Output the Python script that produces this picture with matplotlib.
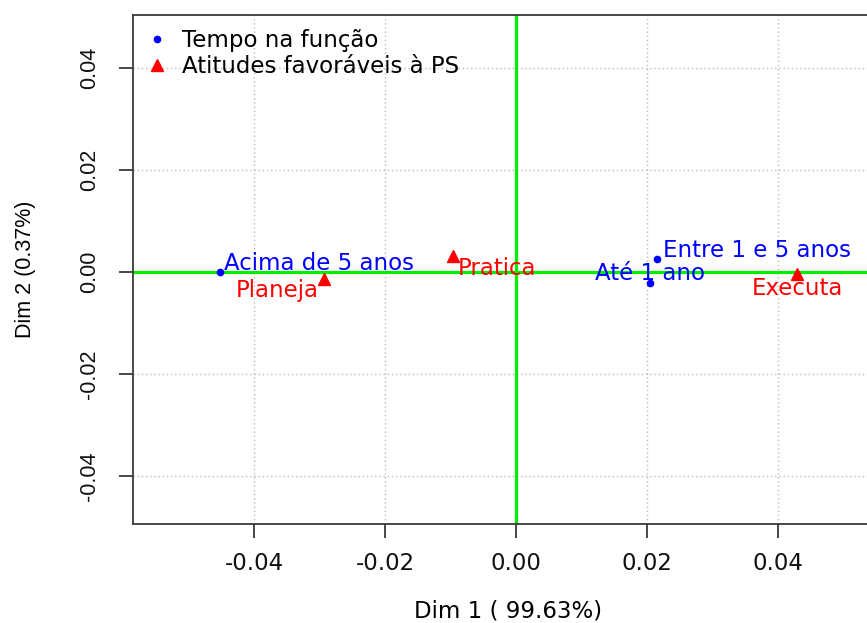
import matplotlib
matplotlib.use("Agg")
import matplotlib.pyplot as plt

# ============================================================================
# DATA
# ============================================================================

row_names = ["Acima de 5 anos", "Entre 1 e 5 anos", "Até 1 ano"]
row_x = [-0.0452, 0.0216, 0.0204]
row_y = [0.0000, 0.0025, -0.0022]

col_names = ["Planeja", "Pratica", "Executa"]
col_x = [-0.0293, -0.0096, 0.0429]
col_y = [-0.0014, 0.0031, -0.0003]

tick_values = [-0.04, -0.02, 0.00, 0.02, 0.04]
tick_labels = ["-0.04", "-0.02", "0.00", "0.02", "0.04"]

legend_labels = ["Tempo na função", "Atitudes favoráveis à PS"]
xlabel = "Dim 1 ( 99.63%)"
ylabel = "Dim 2 (0.37%)"

# label offsets in points (dx, dy, ha) so labels sit like the R autoLab output
row_offsets = [(3, 6.5, "left"), (4.3, 6.5, "left"), (0, 7, "center")]
col_offsets = [(-3.6, -8, "right"), (3.6, -8.6, "left"), (0, -10.8, "center")]

# ============================================================================
# PLOT
# ============================================================================

plt.rcParams["font.family"] = "DejaVu Sans"
FS = 16.5
BLUE = "#0000FF"
RED = "#FF0000"
GREEN = "#00EE00"
SPINE = "#3a3a3a"

fig = plt.figure(figsize=(8.67, 6.23), dpi=100)
ax = fig.add_axes([0.1534, 0.1589, 0.8648, 0.817])

ax.set_xlim(-0.05847, 0.056)
ax.set_ylim(-0.0494, 0.0504)

ax.grid(True, linestyle=(0, (1, 2)), color="#BBBBBB", lw=1.0, zorder=0)
ax.axhline(0, color=GREEN, lw=2.3, zorder=2)
ax.axvline(0, color=GREEN, lw=2.3, zorder=2)

ax.plot(row_x, row_y, "o", color=BLUE, ms=4.5, ls="none", zorder=3,
        label=legend_labels[0])
ax.plot(col_x, col_y, "^", color=RED, ms=8, ls="none", zorder=3,
        label=legend_labels[1])

for name, x, y, (dx, dy, ha) in zip(row_names, row_x, row_y, row_offsets):
    ax.annotate(name, xy=(x, y), xytext=(dx, dy), textcoords="offset points",
                ha=ha, va="center", color=BLUE, fontsize=FS, zorder=4)
for name, x, y, (dx, dy, ha) in zip(col_names, col_x, col_y, col_offsets):
    ax.annotate(name, xy=(x, y), xytext=(dx, dy), textcoords="offset points",
                ha=ha, va="center", color=RED, fontsize=FS, zorder=4)

# axes / ticks in R base-graphics look
ax.set_xticks(tick_values)
ax.set_xticklabels(tick_labels, fontsize=FS)
ax.set_yticks(tick_values)
ax.set_yticklabels(tick_labels, fontsize=15.5, family="Liberation Sans",
                   rotation=90, va="center")
ax.tick_params(direction="out", length=10, width=1.3, color=SPINE,
               labelcolor="#111111")
ax.tick_params(axis="x", pad=10)
ax.tick_params(axis="y", pad=14)
for s in ax.spines.values():
    s.set_color(SPINE)
    s.set_linewidth(1.3)

ax.set_xlabel(xlabel, fontsize=FS, labelpad=18)
ax.set_ylabel(ylabel, fontsize=15.5, family="Liberation Sans", labelpad=31)

ax.legend(loc="upper left", bbox_to_anchor=(0.0167, 0.9725), frameon=False,
          fontsize=FS, borderpad=0, borderaxespad=0, handlelength=1.0,
          handletextpad=0.6, labelspacing=0.13)

fig.savefig("out.png", dpi=100)
